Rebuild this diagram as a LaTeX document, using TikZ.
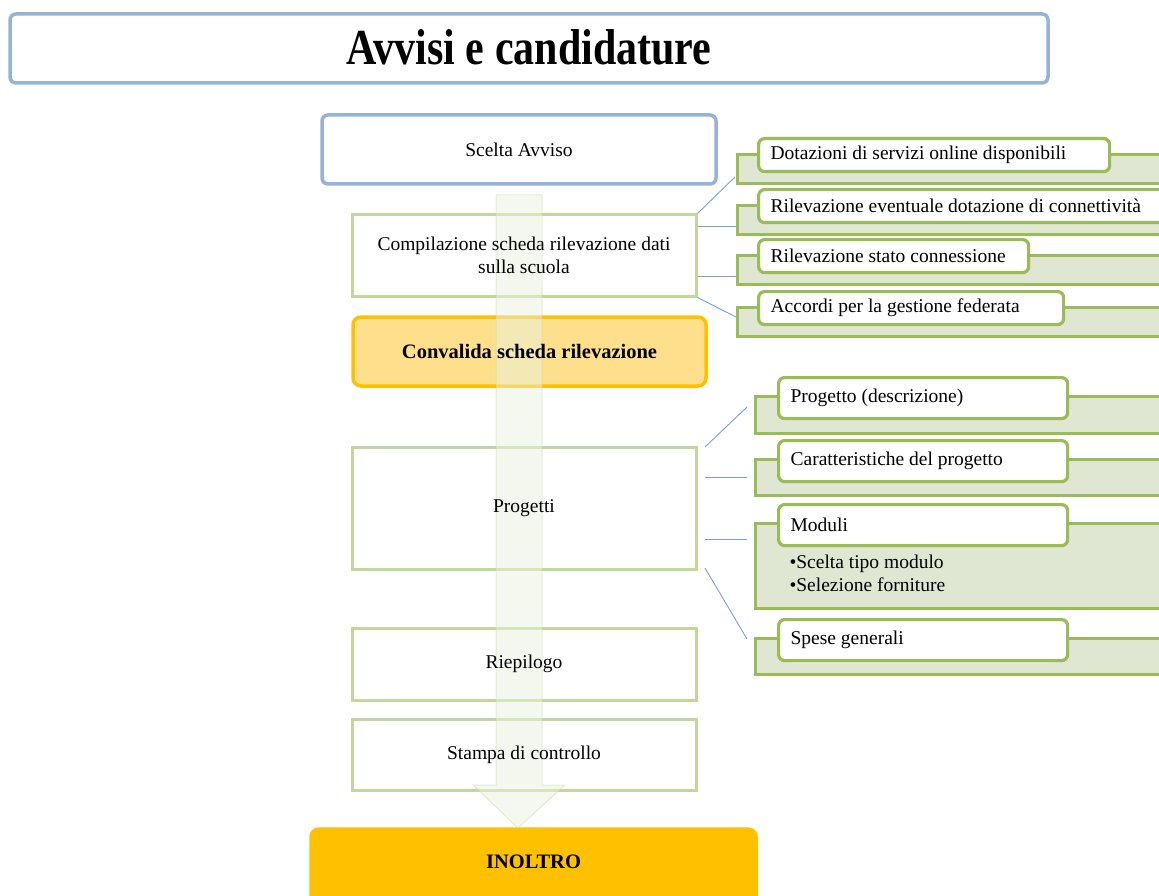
\documentclass[tikz,border=0pt]{standalone}
\usepackage{fontspec}
\setmainfont{Liberation Serif}
\usepackage{tikz}
\usetikzlibrary{positioning,calc}
\usepackage{xcolor}
\definecolor{fblue}{HTML}{95B3D7}
\definecolor{flight}{HTML}{C3D69B}
\definecolor{folive}{HTML}{9BBB59}
\definecolor{fback}{HTML}{DFE7D3}
\definecolor{fsoft}{HTML}{FEE08C}
\definecolor{fgold}{HTML}{FFC000}
\definecolor{fconn}{HTML}{7BA0CD}
\definecolor{fshaft}{HTML}{EBF1DE}

\begin{document}
\begin{tikzpicture}[x=1pt, y=-1pt, font=\fontsize{19.5}{23}\selectfont,
  mainbox/.style={draw=flight, line width=3pt, fill=white, minimum width=344},
  bluebox/.style={draw=fblue, line width=3.5pt, fill=white, rounded corners=6pt},
  goldbox/.style={draw=fgold, line width=3.5pt, fill=fsoft, rounded corners=8pt},
  boldtext/.style={font=\fontsize{20.5}{23}\selectfont\bfseries},
  backbox/.style={draw=folive, line width=2.8pt, fill=fback, minimum width=500, inner sep=0pt, anchor=north west},
  frontbox/.style={draw=folive, line width=3.2pt, fill=white, rounded corners=6pt,
    inner xsep=12pt, inner ysep=0pt, anchor=north west},
  conn/.style={draw=fconn, line width=0.9pt}]
\useasboundingbox (0,0) rectangle (1159,896);
\clip (0,0) rectangle (1159,896);
% ---------- title ----------
\node[bluebox, minimum width=1038, minimum height=69] (title) at (529,48.5)
   {\raisebox{2pt}{\scalebox{1}[1.2]{\fontsize{42}{42}\selectfont\bfseries Avvisi e candidature}}};
% ---------- main column (frames first, the words after the arrow) ----------
\node[bluebox, minimum width=394, minimum height=69] (scelta) at (519,149.5) {};
\node[mainbox, minimum height=81] (compila) at (524,255.5) {};
\node[goldbox, minimum width=353, minimum height=69] (convalida) at (529.5,351.5) {};
\node[mainbox, minimum height=122] (progetti) at (524,508) {};
\node[mainbox, minimum height=72] (riepilogo) at (524,664) {};
\node[mainbox, minimum height=71] (stampa) at (524,754.5) {};
\node[goldbox, fill=fgold, minimum width=445, minimum height=80] (inoltro) at (533.5,869) {};
% big faint arrow over the column
\draw[draw=flight, fill=fshaft, fill opacity=0.5, draw opacity=0.4, line width=1pt]
  (496,195) -- (542,195) -- (542,785) -- (565,785) -- (518,828) -- (473,785) -- (496,785) -- cycle;
\node (scelta-t) at (scelta) {Scelta Avviso};
\node[align=center] (compila-t) at (compila) {Compilazione scheda rilevazione dati\\sulla scuola};
\node[boldtext] (convalida-t) at (convalida) {Convalida scheda rilevazione};
\node (progetti-t) at (progetti) {Progetti};
\node (riepilogo-t) at (riepilogo) {Riepilogo};
\node (stampa-t) at (stampa) {Stampa di controllo};
\node[boldtext] (inoltro-t) at (533.5,862) {INOLTRO};
% ---------- right: data sheet ----------
\foreach \i/\ty/\tw/\lb in {1/137/327pt/{Dotazioni di servizi online disponibili},
    2/188/389pt/{Rilevazione eventuale dotazione di connettività},
    3/238/246pt/{Rilevazione stato connessione},
    4/290/281pt/{Accordi per la gestione federata}}{
  \node[backbox, minimum height=29] (sb\i) at (736,\ty+16) {};
  \node[frontbox, minimum height=33] (s\i) at (757,\ty) {\makebox[\tw][l]{\lb}};
}
\coordinate (c1) at (735,177);
\coordinate (c2) at (736,226);
\coordinate (c3) at (736,276);
\coordinate (c4) at (736,317);
\draw[conn] (compila.north east) -- (c1);
\draw[conn] (compila.east |- c2) -- (c2);
\draw[conn] (compila.east |- c3) -- (c3);
\draw[conn] (compila.south east) -- (c4);
% ---------- right: projects ----------
\foreach \i/\ty/\bh/\lb in {1/376/37/{Progetto (descrizione)}, 2/439/36/{Caratteristiche del progetto},
    3/503/85/{Moduli}, 4/618/36/{Spese generali}}{
  \node[backbox, minimum height=\bh] (pb\i) at (754,\ty+19) {};
  \node[frontbox, minimum height=41] (p\i) at (777,\ty) {\makebox[265pt][l]{\lb}};
}
\node[anchor=west, align=left] (mod) at (786,573)
   {\textbullet Scelta tipo modulo\\\textbullet Selezione forniture};
\coordinate (q1a) at (705,447); \coordinate (q1b) at (747,407);
\coordinate (q2a) at (705,477); \coordinate (q2b) at (747,477);
\coordinate (q3a) at (705,539); \coordinate (q3b) at (747,539);
\coordinate (q4a) at (705,568); \coordinate (q4b) at (747,639);
\foreach \k in {1,...,4}{
  \draw[conn] (q\k a) -- (q\k b);
}
\end{tikzpicture}
\end{document}
